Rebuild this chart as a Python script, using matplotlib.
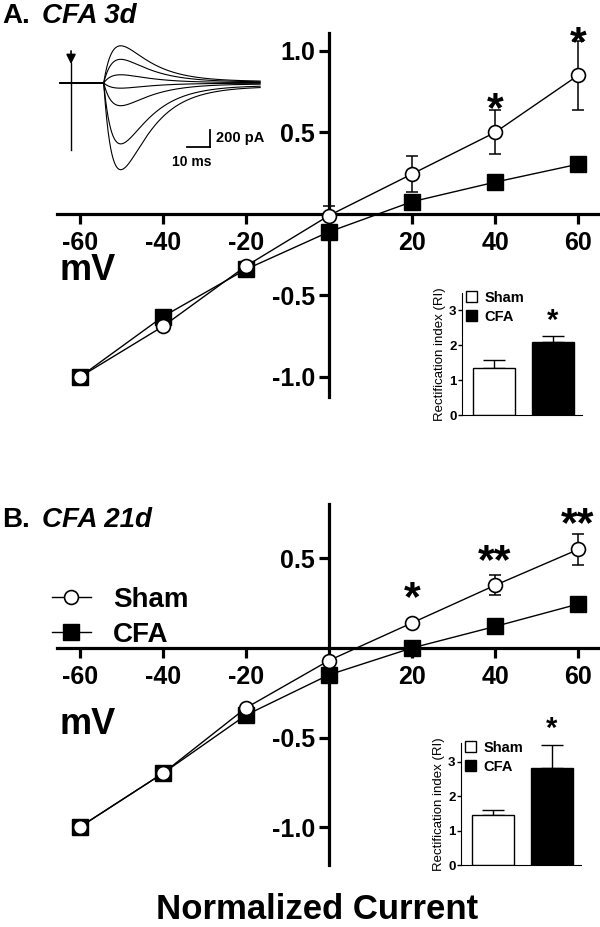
import matplotlib
import numpy as np

matplotlib.use("Agg")
import matplotlib.pyplot as plt  # noqa: E402
from matplotlib.patches import Patch  # noqa: E402

plt.rcParams["font.family"] = ["Liberation Sans", "DejaVu Sans"]
plt.rcParams["font.weight"] = "bold"
plt.rcParams["axes.unicode_minus"] = False

# I-V データ（正規化電流）
voltages = [-60, -40, -20, 0, 20, 40, 60]

sham_3d = [-1.0, -0.69, -0.32, -0.01, 0.245, 0.50, 0.85]
sham_3d_err = [0, 0, 0, 0.06, 0.11, 0.135, 0.21]
cfa_3d = [-1.0, -0.63, -0.34, -0.11, 0.075, 0.195, 0.305]
cfa_3d_err = [0, 0, 0, 0, 0, 0, 0]

sham_21d = [-1.0, -0.70, -0.335, -0.07, 0.14, 0.35, 0.55]
sham_21d_err = [0, 0, 0, 0, 0, 0.055, 0.085]
cfa_21d = [-1.0, -0.70, -0.375, -0.15, 0.0, 0.12, 0.245]
cfa_21d_err = [0, 0, 0, 0, 0, 0, 0.03]

# 有意差マーク
star_x_3d = [40, 60]
star_y_3d = [0.72, 1.13]
star_txt_3d = ["*", "*"]
star_x_21d = [20, 40, 60]
star_y_21d = [0.35, 0.56, 0.765]
star_txt_21d = ["*", "**", "**"]

# 整流指数（RI）
ri_groups = ["Sham", "CFA"]
ri_3d = [1.35, 2.10]
ri_3d_err = [0.22, 0.17]
ri_21d = [1.45, 2.81]
ri_21d_err = [0.14, 0.69]

# 電流トレースのピーク振幅 (pA)
trace_amp_pa = [424, 270, 94, -59, -259, -694, -988]

W, H = 600, 927


def fig_rect(x0, y0, x1, y1):
    """ピクセル座標（左上原点）を figure 比率へ変換する。"""
    return [x0 / W, 1 - y1 / H, (x1 - x0) / W, (y1 - y0) / H]


def draw_iv(fig, rect, ylim, yticks, sham, sham_err, cfa, cfa_err, star_x, star_y, star_txt):
    ax = fig.add_axes(rect)
    ax.set_facecolor("none")
    ax.set_xlim(-65.5, 64.8)
    ax.set_ylim(*ylim)
    for s in ["top", "right"]:
        ax.spines[s].set_visible(False)
    for s in ["left", "bottom"]:
        ax.spines[s].set_position(("data", 0))
        ax.spines[s].set_linewidth(2.3)
    ax.set_xticks([-60, -40, -20, 20, 40, 60])
    ax.set_yticks(yticks)
    ax.set_yticklabels([f"{v:.1f}" for v in yticks])
    ax.tick_params(width=2.3, length=7, labelsize=18, direction="out")
    ax.tick_params(axis="x", pad=5)
    ax.tick_params(axis="y", pad=3)

    for vals, errs in [(cfa, cfa_err), (sham, sham_err)]:
        xs = [v for v, e in zip(voltages, errs) if e > 0]
        ys = [y for y, e in zip(vals, errs) if e > 0]
        es = [e for e in errs if e > 0]
        if xs:
            ax.errorbar(xs, ys, yerr=es, fmt="none", ecolor="black",
                        elinewidth=1.1, capsize=4.5, capthick=1.1, zorder=2)
    cfa_line, = ax.plot(voltages, cfa, "-s", color="black", mfc="black", ms=11,
                        lw=1.0, label="CFA", zorder=3, clip_on=False)
    sham_line, = ax.plot(voltages, sham, "-o", color="black", mfc="white", ms=10,
                         mew=1.2, lw=1.0, label="Sham", zorder=4, clip_on=False)
    for x, y, txt in zip(star_x, star_y, star_txt):
        ax.annotate(txt, xy=(x, y), xytext=(0, -0.58 * 31), textcoords="offset points",
                    ha="center", va="baseline", fontsize=31, annotation_clip=False)
    return ax, sham_line, cfa_line


def draw_ri(fig, rect, ylim, values, errs):
    ax = fig.add_axes(rect)
    ax.set_facecolor("none")
    pos = [1, 2]
    ax.bar(pos, values, width=0.72, color=["white", "black"], edgecolor="black",
           linewidth=1.0, zorder=2)
    ax.errorbar(pos, values, yerr=[[0, 0], errs], fmt="none", ecolor="black",
                elinewidth=1.0, capsize=8, capthick=1.0, zorder=1)
    ax.set_xlim(0.45, 2.5)
    ax.set_ylim(*ylim)
    ax.set_xticks([])
    ax.set_yticks([0, 1, 2, 3])
    for s in ["top", "right"]:
        ax.spines[s].set_visible(False)
    ax.tick_params(axis="y", length=3, width=1, labelsize=9.5, pad=1)
    ax.set_ylabel("Rectification index (RI)", fontsize=9.5, labelpad=2)
    ax.annotate("*", xy=(2, values[1] + errs[1]), xytext=(0, 1), textcoords="offset points",
                ha="center", va="bottom", fontsize=21, annotation_clip=False)
    handles = [Patch(facecolor="white", edgecolor="black", linewidth=1.0),
               Patch(facecolor="black", edgecolor="black", linewidth=1.0)]
    ax.legend(handles, ri_groups, loc="upper left", bbox_to_anchor=(0.03, 1.02),
              frameon=False, fontsize=10.5, handlelength=0.8, handleheight=0.8,
              handletextpad=0.5, labelspacing=0.35, borderpad=0, borderaxespad=0)
    return ax


def draw_traces(fig, rect):
    ax = fig.add_axes(rect)
    ax.set_facecolor("none")
    ax.axis("off")
    px_per_ms, px_per_pa = 2.3, 0.085
    ax.set_xlim(-5 / px_per_ms, 205 / px_per_ms)
    ax.set_ylim(-92 / px_per_pa, 43 / px_per_pa)

    t = np.linspace(0, 87, 900)
    onset, tau_r, tau_d = 19.0, 4.5, 13.0
    dt = np.clip(t - onset, 0, None)
    kern = np.exp(-dt / tau_d) - np.exp(-dt / tau_r)
    kern = kern / kern.max() + 0.04 * (1 - np.exp(-dt / tau_r))
    for amp in trace_amp_pa:
        ax.plot(t, amp * kern, color="black", lw=0.8)
    # 刺激アーチファクトと矢印
    ax.plot([4.8, 4.8], [235, -790], color="black", lw=1.0)
    ax.annotate("", xy=(4.8, 190), xytext=(4.8, 410),
                arrowprops=dict(arrowstyle="-|>", color="black", lw=1.2, mutation_scale=14))
    # スケールバー
    ax.plot([55.2, 65.2], [-753, -753], color="black", lw=1.3)
    ax.plot([65.2, 65.2], [-753, -553], color="black", lw=1.3)
    ax.text(68, -650, "200 pA", fontsize=10.5, va="center", ha="left")
    ax.text(57.5, -925, "10 ms", fontsize=10, va="center", ha="center")
    return ax


fig = plt.figure(figsize=(W / 100, H / 100), dpi=100)

ax_a, _, _ = draw_iv(fig, fig_rect(57, 33, 598, 397), (-1.123, 1.110), [-1.0, -0.5, 0.5, 1.0],
                     sham_3d, sham_3d_err, cfa_3d, cfa_3d_err, star_x_3d, star_y_3d, star_txt_3d)
ax_b, sham_h, cfa_h = draw_iv(fig, fig_rect(57, 504, 598, 865), (-1.212, 0.804), [-1.0, -0.5, 0.5],
                              sham_21d, sham_21d_err, cfa_21d, cfa_21d_err,
                              star_x_21d, star_y_21d, star_txt_21d)
fig.legend([sham_h, cfa_h], ["Sham", "CFA"], loc="upper left",
           bbox_to_anchor=(52 / W, 1 - 587 / H), frameon=False, fontsize=20,
           handlelength=1.4, handletextpad=0.8, labelspacing=0.32, borderpad=0,
           borderaxespad=0, numpoints=1)

draw_ri(fig, fig_rect(462, 293, 582, 415), (0, 3.5), ri_3d, ri_3d_err)
draw_ri(fig, fig_rect(461, 743, 581, 865), (0, 3.55), ri_21d, ri_21d_err)
draw_traces(fig, fig_rect(55, 40, 265, 175))

# パネルタイトル・軸ラベル
fig.text(2 / W, 1 - 23 / H, "A.", fontsize=20, va="baseline")
fig.text(42 / W, 1 - 23 / H, "CFA 3d", fontsize=20, fontstyle="italic", va="baseline")
fig.text(2 / W, 1 - 527 / H, "B.", fontsize=20, va="baseline")
fig.text(42 / W, 1 - 527 / H, "CFA 21d", fontsize=20, fontstyle="italic", va="baseline")
fig.text(59 / W, 1 - 270 / H, "mV", fontsize=26, va="center", ha="left")
fig.text(59 / W, 1 - 725 / H, "mV", fontsize=26, va="center", ha="left")
fig.text(317 / W, 1 / H, "Normalized Current", fontsize=25, va="bottom", ha="center")

fig.savefig("out.png", dpi=100)
